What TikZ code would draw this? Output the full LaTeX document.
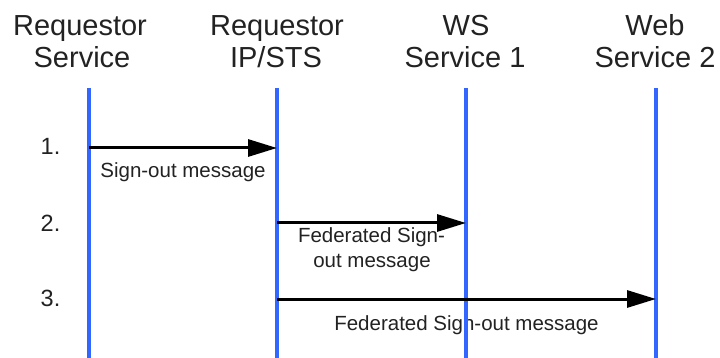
\documentclass[tikz,border=0pt]{standalone}
\usepackage{fontspec}
\setmainfont{Liberation Sans}
\usetikzlibrary{arrows.meta}
\definecolor{lifeblue}{RGB}{51,102,255}
\definecolor{txt}{RGB}{34,34,34}
\tikzset{
  hdr/.style={anchor=base, inner sep=0pt, text=txt, font=\fontsize{29}{32}\selectfont},
  num/.style={anchor=base, inner sep=0pt, text=txt, font=\fontsize{23.5}{28}\selectfont},
  lbl/.style={anchor=base, inner sep=0pt, text=txt, font=\fontsize{20.5}{24}\selectfont},
  lifeline/.style={draw=lifeblue, line width=4pt},
  msg/.style={draw=black, line width=3pt, -{Triangle[length=29pt,width=17pt]}}
}
\begin{document}
\begin{tikzpicture}[x=1pt,y=-1pt]
\useasboundingbox (0,0) rectangle (720,358);
% headers
\node[hdr] (h1a) at (80,36) {Requestor};
\node[hdr] (h1b) at (82,68) {Service};
\node[hdr] (h2a) at (277,36) {Requestor};
\node[hdr] (h2b) at (276,68) {IP/STS};
\node[hdr] (h3a) at (466,36) {WS};
\node[hdr] (h3b) at (465,68) {Service 1};
\node[hdr] (h4a) at (655,36) {Web};
\node[hdr] (h4b) at (655,68) {Service 2};
% step numbers
\node[num] (n1) at (50.5,155) {1.};
\node[num] (n2) at (50.5,232) {2.};
\node[num] (n3) at (50.5,306) {3.};
% message labels
\node[lbl] (m1) at (183,177.5) {Sign-out message};
\node[lbl] (m2a) at (371.5,243) {Federated Sign-};
\node[lbl] (m2b) at (372,267) {out message};
\node[lbl] (m3) at (466.5,330) {Federated Sign-out message};
% lifelines
\coordinate (l1t) at (89,88);  \coordinate (l1b) at (89,358);
\coordinate (l2t) at (277,88); \coordinate (l2b) at (277,358);
\coordinate (l3t) at (466,88); \coordinate (l3b) at (466,358);
\coordinate (l4t) at (656,88); \coordinate (l4b) at (656,358);
\draw[lifeline] (l1t) -- (l1b);
\draw[lifeline] (l2t) -- (l2b);
\draw[lifeline] (l3t) -- (l3b);
\draw[lifeline] (l4t) -- (l4b);
% messages
\coordinate (a1s) at (89,148);  \coordinate (a1e) at (277,148);
\coordinate (a2s) at (277,223); \coordinate (a2e) at (466,223);
\coordinate (a3s) at (277,299); \coordinate (a3e) at (656,299);
\draw[msg] (a1s) -- (a1e);
\draw[msg] (a2s) -- (a2e);
\draw[msg] (a3s) -- (a3e);
\end{tikzpicture}
\end{document}
